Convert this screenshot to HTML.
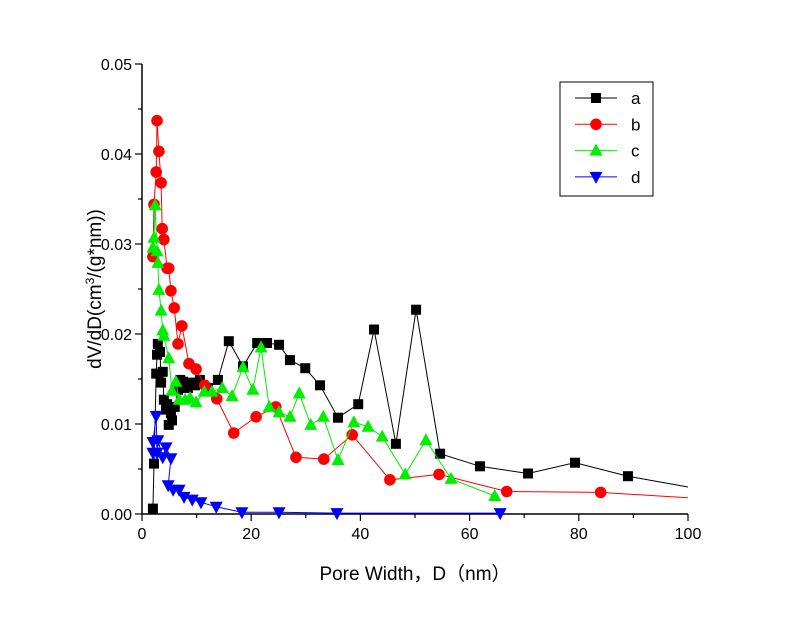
<!DOCTYPE html>
<html><head><meta charset="utf-8"><style>
body{margin:0;background:#fff}
svg{display:block;font-family:"Liberation Sans",Arial,sans-serif}
</style></head><body>
<svg id="chart" width="800" height="617"></svg>
<script>
const seriesNames=["a","b","c","d"];
const aX=[2.0,2.2,2.6,2.75,2.9,3.3,3.5,3.8,4.0,4.4,4.6,4.9,5.3,5.5,6.0,6.6,7.0,7.5,8.4,8.8,9.7,10.6,12.1,13.9,15.9,18.5,21.1,22.9,25.1,27.1,29.9,32.6,35.9,39.6,42.5,46.5,50.2,54.6,61.9,70.7,79.3,89,100];
const aY=[0.0006,0.0056,0.0156,0.0177,0.0189,0.018,0.0146,0.0158,0.0127,0.0116,0.0122,0.0099,0.0112,0.0104,0.0119,0.0138,0.0149,0.0147,0.014,0.0146,0.0143,0.0149,0.014,0.0149,0.0192,0.0164,0.019,0.019,0.0188,0.0171,0.0162,0.0143,0.0107,0.0122,0.0205,0.0078,0.0227,0.0067,0.0053,0.0045,0.0057,0.0042,0.003];
const bX=[2.0,2.2,2.6,2.75,3.1,3.5,3.7,4.0,4.6,4.9,5.3,5.9,6.6,7.3,8.6,9.9,11.5,13.7,16.8,20.9,24.5,28.2,33.3,38.5,45.4,54.4,66.8,84,100];
const bY=[0.0286,0.0344,0.038,0.0437,0.0403,0.0368,0.0317,0.0305,0.0273,0.0273,0.0248,0.0229,0.0189,0.0209,0.0167,0.0161,0.0143,0.0128,0.009,0.0108,0.0119,0.0063,0.0061,0.0088,0.0038,0.0044,0.0025,0.0024,0.0018];
const cX=[2.0,2.2,2.4,2.75,2.9,3.1,3.5,3.8,4.0,4.9,5.5,6.2,6.8,7.9,8.8,9.9,11.4,12.8,14.7,16.5,18.5,20.3,21.8,23.3,25.1,27.1,28.8,30.9,33.2,35.9,38.8,41.4,44,48.2,52,56.6,64.6];
const cY=[0.0296,0.0307,0.0343,0.0292,0.0279,0.0249,0.0226,0.0204,0.0198,0.0173,0.0137,0.0147,0.0127,0.0127,0.0129,0.0124,0.0136,0.0136,0.014,0.0131,0.0163,0.0138,0.0185,0.0119,0.0113,0.0108,0.0134,0.0099,0.0108,0.006,0.0102,0.0097,0.0086,0.0044,0.0082,0.0039,0.002];
const dX=[2.0,2.0,2.6,2.75,2.9,3.8,4.4,5.3,4.8,5.7,6.8,7.7,9.2,10.8,13.6,18.3,25.1,35.7,65.6];
const dY=[0.0068,0.008,0.0109,0.0068,0.0082,0.0063,0.0074,0.0062,0.0032,0.0027,0.0027,0.0019,0.0016,0.0013,0.0008,0.0002,0.0002,0.0001,0.0001];
const xTicks=[0,20,40,60,80,100];
const yTicks=["0.00","0.01","0.02","0.03","0.04","0.05"];

const svg=document.getElementById('chart');
const NS='http://www.w3.org/2000/svg';
const X0=142,X1=688,Y0=514,Y1=64;
const xs=v=>X0+(v/100)*(X1-X0);
const ys=v=>Y0-(v/0.05)*(Y0-Y1);
function mk(t,a,p){const e=document.createElementNS(NS,t);for(const k in a)e.setAttribute(k,a[k]);(p||svg).appendChild(e);return e;}

const axes=mk('g',{});


mk('line',{x1:X0,y1:Y0,x2:X0,y2:Y1,stroke:'#000','stroke-width':1.5},axes);
mk('line',{x1:X0,y1:Y0,x2:X1,y2:Y0,stroke:'#000','stroke-width':1.5},axes);
for(let i=0;i<=10;i++){const v=i*0.005,y=ys(v);mk('line',{x1:X0,y1:y,x2:X0-(i%2?4:7),y2:y,stroke:'#000','stroke-width':1.2},axes);}
yTicks.forEach(t=>{const e=mk('text',{x:X0-10,y:ys(parseFloat(t))+6,'text-anchor':'end','font-size':16},axes);e.textContent=t;

});
for(let i=0;i<=10;i++){const x=xs(i*10);mk('line',{x1:x,y1:Y0,x2:x,y2:Y0+(i%2?4:7),stroke:'#000','stroke-width':1.2},axes);}
xTicks.forEach(t=>{const e=mk('text',{x:xs(t),y:Y0+25,'text-anchor':'middle','font-size':16},axes);e.textContent=t;

});
const xl=mk('text',{x:415,y:580,'text-anchor':'middle','font-size':19,'font-family':'"Liberation Sans","Noto Sans CJK SC",sans-serif'});
xl.textContent='Pore Width，D（nm）';


const yl=mk('text',{transform:'translate(101,289) rotate(-90)','text-anchor':'middle','font-size':19});
yl.innerHTML='dV/dD(cm<tspan dy="-7" font-size="12">3</tspan><tspan dy="7">/(g*nm))</tspan>';



function marker(type,x,y,col,g){
  if(type==='sq')return mk('rect',{x:x-5,y:y-5,width:10,height:10,fill:col},g);
  if(type==='ci')return mk('circle',{cx:x,cy:y,r:5.8,fill:col},g);
  if(type==='up')return mk('polygon',{points:`${x},${y-7} ${x-6.5},${y+5} ${x+6.5},${y+5}`,fill:col},g);
  return mk('polygon',{points:`${x},${y+7} ${x-6.5},${y-5} ${x+6.5},${y-5}`,fill:col},g);
}
const series=[[aX,aY,'#000','sq'],[bX,bY,'#ff0000','ci'],[cX,cY,'#00ee00','up'],[dX,dY,'#0000ff','dn']];
series.forEach((s,i)=>{
  const g=mk('g',{});
  
  
  mk('polyline',{points:s[0].map((x,j)=>xs(x)+','+ys(s[1][j])).join(' '),fill:'none',stroke:s[2],'stroke-width':1},g);
  s[0].forEach((x,j)=>{if(x<100){const m=marker(s[3],xs(x),ys(s[1][j]),s[2],g);
    
    }});
});

const lg=mk('g',{});


mk('rect',{x:560,y:82,width:93,height:114,fill:'#fff',stroke:'#000','stroke-width':1},lg);
series.forEach((s,i)=>{
  const y=98+i*26.3;
  const e=mk('g',{},lg);
  
  
  mk('line',{x1:575,y1:y,x2:617,y2:y,stroke:s[2],'stroke-width':1},e);
  marker(s[3],596,y,s[2],e);
  const t=mk('text',{x:631,y:y+6,'font-size':17},e);t.textContent=seriesNames[i];
});
</script>
</body></html>
